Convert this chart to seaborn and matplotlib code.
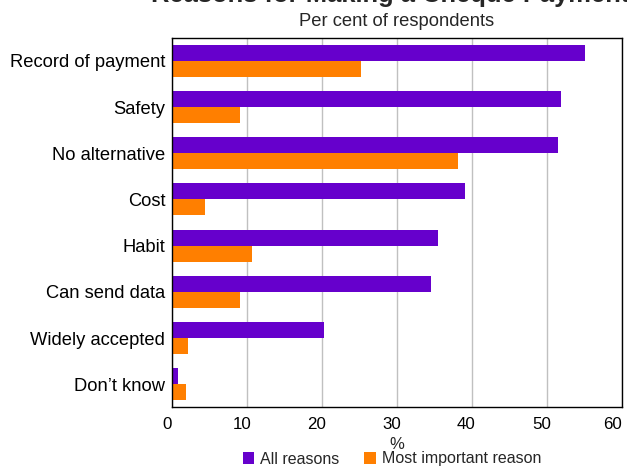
import matplotlib
matplotlib.use("Agg")
import matplotlib.pyplot as plt
import matplotlib.transforms as mtransforms
import seaborn as sns
import pandas as pd
from matplotlib.patches import Patch

categories = ["Record of payment", "Safety", "No alternative", "Cost", "Habit",
              "Can send data", "Widely accepted", "Don\u2019t know"]
all_reasons = [55.1, 51.9, 51.5, 39.1, 35.5, 34.5, 20.3, 0.7]
most_important = [25.2, 9.0, 38.1, 4.4, 10.6, 9.0, 2.1, 1.8]
series_names = ["All reasons", "Most important reason"]
colors = ["#6600CC", "#FF7F00"]
x_ticks = [0, 10, 20, 30, 40, 50, 60]

df = pd.DataFrame({
    "reason": categories * 2,
    "value": all_reasons + most_important,
    "series": [series_names[0]] * len(categories) + [series_names[1]] * len(categories),
})

sns.set_style("white")
plt.rcParams["font.family"] = ["Liberation Sans", "DejaVu Sans"]

W, H = 627, 468
fig = plt.figure(figsize=(W / 100, H / 100), dpi=100)
left, right, top, bottom = 172.3, 621.7, 37.7, 407.3
ax = fig.add_axes([left / W, 1 - bottom / H, (right - left) / W, (bottom - top) / H])

sns.barplot(data=df, x="value", y="reason", hue="series", order=categories,
            hue_order=series_names, palette=colors, orient="h", width=0.69,
            saturation=1, ax=ax, legend=False, linewidth=0)

ax.set_xlim(0, 60)
ax.set_xticks(x_ticks)
ax.grid(axis="x", color="#C0C0C0", linewidth=1)
ax.grid(axis="y", visible=False)
ax.set_axisbelow(True)
for s in ax.spines.values():
    s.set_visible(True)
    s.set_color("#000000")
    s.set_linewidth(1)
ax.tick_params(axis="x", length=0, pad=7, labelsize=12.2, colors="black")
ax.tick_params(axis="y", length=0, pad=5, labelsize=13.2, colors="black")
ax.set_ylabel("")
ax.set_xlabel("%", fontsize=12)
ax.xaxis.set_label_coords(0.5, -29.7 / (bottom - top))

# shift x tick labels slightly left as in the reference
labels = ax.get_xticklabels()
for i, lab in enumerate(labels):
    dx = -9 if i == len(labels) - 1 else -5.5
    lab.set_transform(lab.get_transform() +
                      mtransforms.ScaledTranslation(dx / 100, 0, fig.dpi_scale_trans))

cx = (left + right) / 2 / W
fig.text(cx, 1 - 2 / H, "Reasons for Making a Cheque Payments", ha="center",
         va="baseline", fontsize=18.4, fontweight="bold")
fig.text(cx, 1 - 26 / H, "Per cent of respondents", ha="center", va="baseline",
         fontsize=13.2)

handles = [Patch(facecolor=c, edgecolor="none") for c in colors]
fig.legend(handles, series_names, loc="center", bbox_to_anchor=(392 / W, 1 - 459 / H),
           ncol=2, frameon=False, fontsize=11.5, handlelength=0.7, handleheight=0.7,
           handletextpad=0.4, columnspacing=1.57, borderpad=0, borderaxespad=0)

fig.savefig("out.png", dpi=100)
